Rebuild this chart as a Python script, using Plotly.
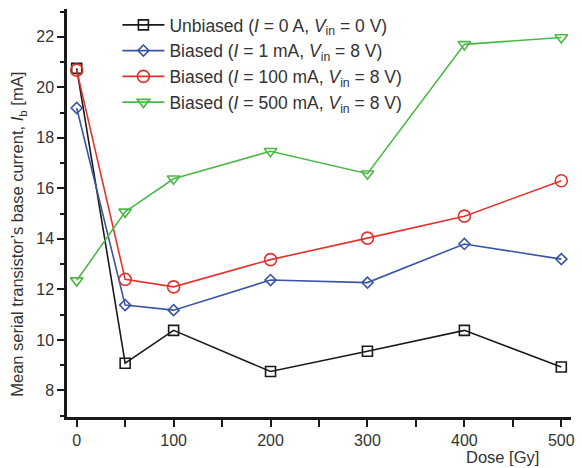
import plotly.graph_objects as go

dose = [0, 50, 100, 200, 300, 400, 500]
unbiased = [20.75, 9.08, 10.38, 8.75, 9.55, 10.38, 8.93]
biased_1mA = [19.18, 11.38, 11.18, 12.37, 12.27, 13.8, 13.2]
biased_100mA = [20.68, 12.4, 12.1, 13.18, 14.03, 14.9, 16.3]
biased_500mA = [12.35, 15.07, 16.38, 17.47, 16.58, 21.7, 21.97]

names = [
    "Unbiased (<i>I</i> = 0 A, <i>V</i><sub>in</sub> = 0 V)",
    "Biased (<i>I</i> = 1 mA, <i>V</i><sub>in</sub> = 8 V)",
    "Biased (<i>I</i> = 100 mA, <i>V</i><sub>in</sub> = 8 V)",
    "Biased (<i>I</i> = 500 mA, <i>V</i><sub>in</sub> = 8 V)",
]
series = [unbiased, biased_1mA, biased_100mA, biased_500mA]
colors = ["#1a1a1a", "#3a55a4", "#e2332e", "#4db848"]
symbols = ["square-open", "diamond-open", "circle-open", "triangle-down-open"]
sizes = [10, 8.5, 12, 11]

fig = go.Figure()
for nm, ys, c, s, sz in zip(names, series, colors, symbols, sizes):
    fig.add_trace(go.Scatter(
        x=dose, y=ys, name=nm, mode="lines+markers",
        line=dict(color=c, width=1.6),
        marker=dict(symbol=s, size=sz, color=c, line=dict(color=c, width=1.6)),
    ))

fig.update_layout(
    width=582, height=468,
    margin=dict(l=67, r=7, t=8, b=51),
    paper_bgcolor="white", plot_bgcolor="white",
    font=dict(family="Liberation Sans, Arial, sans-serif", size=16, color="#333333"),
    showlegend=True,
    legend=dict(x=0.1, y=1.005, xanchor="left", yanchor="top",
                bgcolor="rgba(0,0,0,0)", font=dict(size=17.5, color="#333333"),
                tracegroupgap=0, itemwidth=42),
    xaxis=dict(range=[-10, 510], tickvals=[0, 100, 200, 300, 400, 500],
               ticks="outside", ticklen=7, tickwidth=2, tickcolor="#1a1a1a",
               showline=True, linecolor="#1a1a1a", linewidth=2.5,
               showgrid=False, zeroline=False,
               minor=dict(tickvals=[50, 150, 250, 350, 450], ticks="outside",
                          ticklen=7, tickwidth=2, tickcolor="#1a1a1a", showgrid=False)),
    yaxis=dict(range=[6.95, 23.1], tickvals=[8, 10, 12, 14, 16, 18, 20, 22],
               ticks="outside", ticklen=7, tickwidth=2, tickcolor="#1a1a1a",
               showline=True, linecolor="#1a1a1a", linewidth=2.5,
               showgrid=False, zeroline=False,
               minor=dict(tickvals=[7, 9, 11, 13, 15, 17, 19, 21, 23], ticks="outside",
                          ticklen=4, tickwidth=2, tickcolor="#1a1a1a", showgrid=False)),
    annotations=[
        dict(text="Dose [Gy]", xref="paper", yref="paper", x=0.941, y=-0.098,
             xanchor="right", yanchor="middle", showarrow=False,
             font=dict(size=16.5, color="#333333")),
        dict(text="Mean serial transistor\u2019s base current, <i>I</i><sub>b</sub> [mA]",
             xref="paper", yref="paper", x=-0.097, y=0.447, textangle=-90,
             xanchor="center", yanchor="middle", showarrow=False,
             font=dict(size=16.5, color="#333333")),
    ],
)

fig.write_html("out.html")
